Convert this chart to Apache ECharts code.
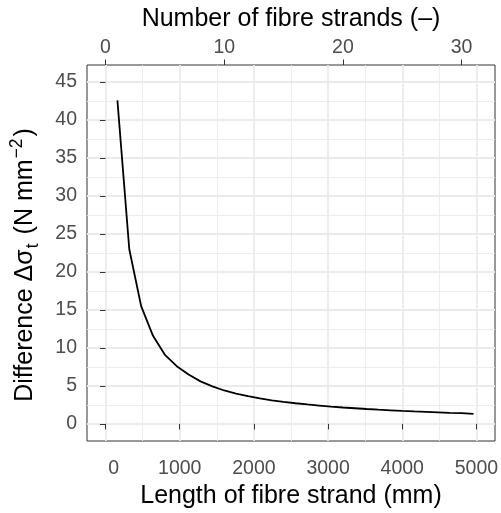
<!DOCTYPE html>
<html><head><meta charset="utf-8">
<script src="https://cdn.jsdelivr.net/npm/echarts@6/dist/echarts.min.js"></script>
<style>html,body{margin:0;padding:0;background:#fff}#c{width:501px;height:513px}</style>
</head><body><div id="c"></div>
<script>
// Length of fibre strand (mm)
const strandLength = [160, 320, 480, 640, 800, 960, 1120, 1280, 1440, 1600,
  1760, 1920, 2080, 2240, 2400, 2560, 2720, 2880, 3040, 3200,
  3360, 3520, 3680, 3840, 4000, 4160, 4320, 4480, 4640, 4800, 4960];
// Difference delta sigma_t (N mm^-2)
const difference = [42.6, 23.0, 15.5, 11.6, 9.1, 7.6, 6.5, 5.6, 4.95, 4.4,
  4.0, 3.65, 3.35, 3.1, 2.9, 2.72, 2.56, 2.42, 2.28, 2.16,
  2.06, 1.96, 1.87, 1.79, 1.71, 1.64, 1.58, 1.52, 1.46, 1.41, 1.33];
const xTicks = [0, 1000, 2000, 3000, 4000, 5000];
const xMinorTicks = [500, 1500, 2500, 3500, 4500];
const yTicks = [0, 5, 10, 15, 20, 25, 30, 35, 40, 45];
const yMinorTicks = [2.5, 7.5, 12.5, 17.5, 22.5, 27.5, 32.5, 37.5, 42.5];
const topTicks = [0, 10, 20, 30];
const mmPerStrand = 160;

const xMin = -250, xMax = 5250, yMin = -2.25, yMax = 47.25;
const FONT = 'Liberation Sans';
const tickLabel = {color: '#4D4D4D', fontSize: 19.5, fontFamily: FONT};
const tick = {show: true, length: 5.5, lineStyle: {color: '#333333', width: 1}};
const major = {show: true, lineStyle: {color: '#EBEBEB', width: 1.8}};
const minor = {show: true, lineStyle: {color: '#EBEBEB', width: 0.9}};
const titleStyle = {fontSize: 25, color: '#000', fontFamily: FONT};

const chart = echarts.init(document.getElementById('c'), null, {renderer: 'canvas'});
chart.setOption({
  animation: false,
  backgroundColor: '#fff',
  grid: {left: 87, right: 6, top: 65, bottom: 72, show: true, borderColor: '#333333', borderWidth: 1, backgroundColor: '#fff', outerBoundsMode: 'none', containLabel: false},
  xAxis: [
    {type: 'value', position: 'bottom', min: xMin, max: xMax,
     axisLine: {show: false},
     axisTick: Object.assign({customValues: xTicks}, tick),
     axisLabel: Object.assign({customValues: xTicks, margin: 18,
       formatter: v => v === 0 ? '   0' : String(v)}, tickLabel),
     splitLine: major,
     name: 'Length of fibre strand (mm)', nameLocation: 'middle', nameGap: 43,
     nameTextStyle: titleStyle},
    {type: 'value', position: 'bottom', min: xMin, max: xMax,
     axisLine: {show: false}, axisTick: {show: false, customValues: xMinorTicks},
     axisLabel: {show: false, customValues: xMinorTicks}, splitLine: minor},
    {type: 'value', position: 'top', min: xMin / mmPerStrand, max: xMax / mmPerStrand,
     axisLine: {show: false},
     axisTick: Object.assign({customValues: topTicks}, tick),
     axisLabel: Object.assign({customValues: topTicks, margin: 7}, tickLabel),
     splitLine: {show: false},
     name: 'Number of fibre strands (–)', nameLocation: 'middle', nameGap: 33,
     nameTextStyle: titleStyle}
  ],
  yAxis: [
    {type: 'value', position: 'left', min: yMin, max: yMax,
     axisLine: {show: false},
     axisTick: Object.assign({customValues: yTicks}, tick),
     axisLabel: Object.assign({customValues: yTicks, margin: 10}, tickLabel),
     splitLine: major,
     name: '{a|Difference Δσ}{s|t}{a| (N mm}{p|−2}{a|)}', nameLocation: 'middle', nameGap: 45, nameRotate: 90,
     nameTextStyle: {padding: [0, 24, 0, 0], rich: {
       a: {fontSize: 25, color: '#000', fontFamily: FONT, lineHeight: 34},
       s: {fontSize: 17.5, color: '#000', fontFamily: FONT, lineHeight: 16, verticalAlign: 'bottom', padding: [0, 2, 0, 1]},
       p: {fontSize: 17.5, color: '#000', fontFamily: FONT, lineHeight: 16, verticalAlign: 'top', padding: [0, 2, 0, 1]}
     }}},
    {type: 'value', position: 'left', min: yMin, max: yMax,
     axisLine: {show: false}, axisTick: {show: false, customValues: yMinorTicks},
     axisLabel: {show: false, customValues: yMinorTicks}, splitLine: minor}
  ],
  series: [{
    type: 'line', xAxisIndex: 0, yAxisIndex: 0, showSymbol: false, symbol: 'none',
    data: strandLength.map((x, i) => [x, difference[i]]),
    lineStyle: {color: '#000', width: 1.8}, z: 5
  }]
});
</script></body></html>
